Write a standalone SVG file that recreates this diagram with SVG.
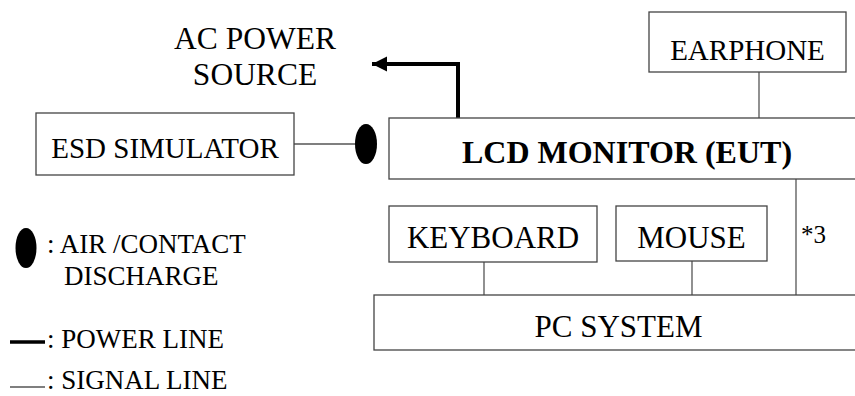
<svg xmlns="http://www.w3.org/2000/svg" width="855" height="396" viewBox="0 0 855 396">
<defs>
<style>
.box{fill:#fff;stroke:#444;stroke-width:1.3}
.t{font-family:"Liberation Serif","Times New Roman",serif;fill:#000}
.sig{stroke:#555;stroke-width:1.3;fill:none}
.pwr{stroke:#000;stroke-width:4;fill:none}
</style>
<marker id="ah" markerUnits="userSpaceOnUse" markerWidth="16" markerHeight="16" refX="15" refY="8" orient="auto">
<path d="M0,0.5 L15,8 L0,15.5 Z" fill="#000"/>
</marker>
</defs>
<rect width="855" height="396" fill="#fff"/>
<g id="connectors">
<path class="pwr" d="M458,118 V64 H372" marker-end="url(#ah)"/>
<line class="sig" x1="294" y1="144" x2="357" y2="144"/>
<line class="sig" x1="759" y1="72" x2="759" y2="118"/>
<line class="sig" x1="796" y1="179" x2="796" y2="295"/>
<line class="sig" x1="484" y1="262" x2="484" y2="295"/>
<line class="sig" x1="692" y1="261" x2="692" y2="295"/>
</g>
<g id="ac-power">
<text class="t" x="255" y="49" font-size="31.5" text-anchor="middle">AC POWER</text>
<text class="t" x="255" y="85" font-size="31.5" text-anchor="middle">SOURCE</text>
</g>
<g id="esd-simulator">
<rect class="box" x="36" y="113" width="258" height="62"/>
<text class="t" x="165" y="158" font-size="29" text-anchor="middle">ESD SIMULATOR</text>
</g>
<g id="discharge-point">
<ellipse cx="366" cy="144" rx="11" ry="20" fill="#000"/>
</g>
<g id="earphone">
<rect class="box" x="649" y="12" width="197" height="60"/>
<text class="t" x="747.5" y="60" font-size="29" text-anchor="middle">EARPHONE</text>
</g>
<g id="lcd-monitor">
<rect class="box" x="389" y="118" width="480" height="61"/>
<text class="t" x="627" y="163" font-size="32" font-weight="bold" text-anchor="middle">LCD MONITOR (EUT)</text>
</g>
<g id="keyboard">
<rect class="box" x="389" y="206" width="208" height="56"/>
<text class="t" x="493" y="248" font-size="31" text-anchor="middle">KEYBOARD</text>
</g>
<g id="mouse">
<rect class="box" x="616" y="206" width="151" height="55"/>
<text class="t" x="691.5" y="248" font-size="31" text-anchor="middle">MOUSE</text>
</g>
<g id="note">
<text class="t" x="801" y="243" font-size="25">*3</text>
</g>
<g id="pc-system">
<rect class="box" x="374" y="295" width="495" height="55"/>
<text class="t" x="618.5" y="337" font-size="31" text-anchor="middle">PC SYSTEM</text>
</g>
<g id="legend">
<ellipse cx="26" cy="248" rx="10.5" ry="20" fill="#000"/>
<text class="t" x="47" y="253" font-size="27">: AIR /CONTACT</text>
<text class="t" x="64" y="285" font-size="27">DISCHARGE</text>
<line x1="10" y1="342" x2="45" y2="342" stroke="#000" stroke-width="3.5"/>
<text class="t" x="47" y="348" font-size="27">: POWER LINE</text>
<line x1="10" y1="387" x2="45" y2="387" stroke="#555" stroke-width="1.3"/>
<text class="t" x="47" y="389" font-size="27">: SIGNAL LINE</text>
</g>
</svg>
